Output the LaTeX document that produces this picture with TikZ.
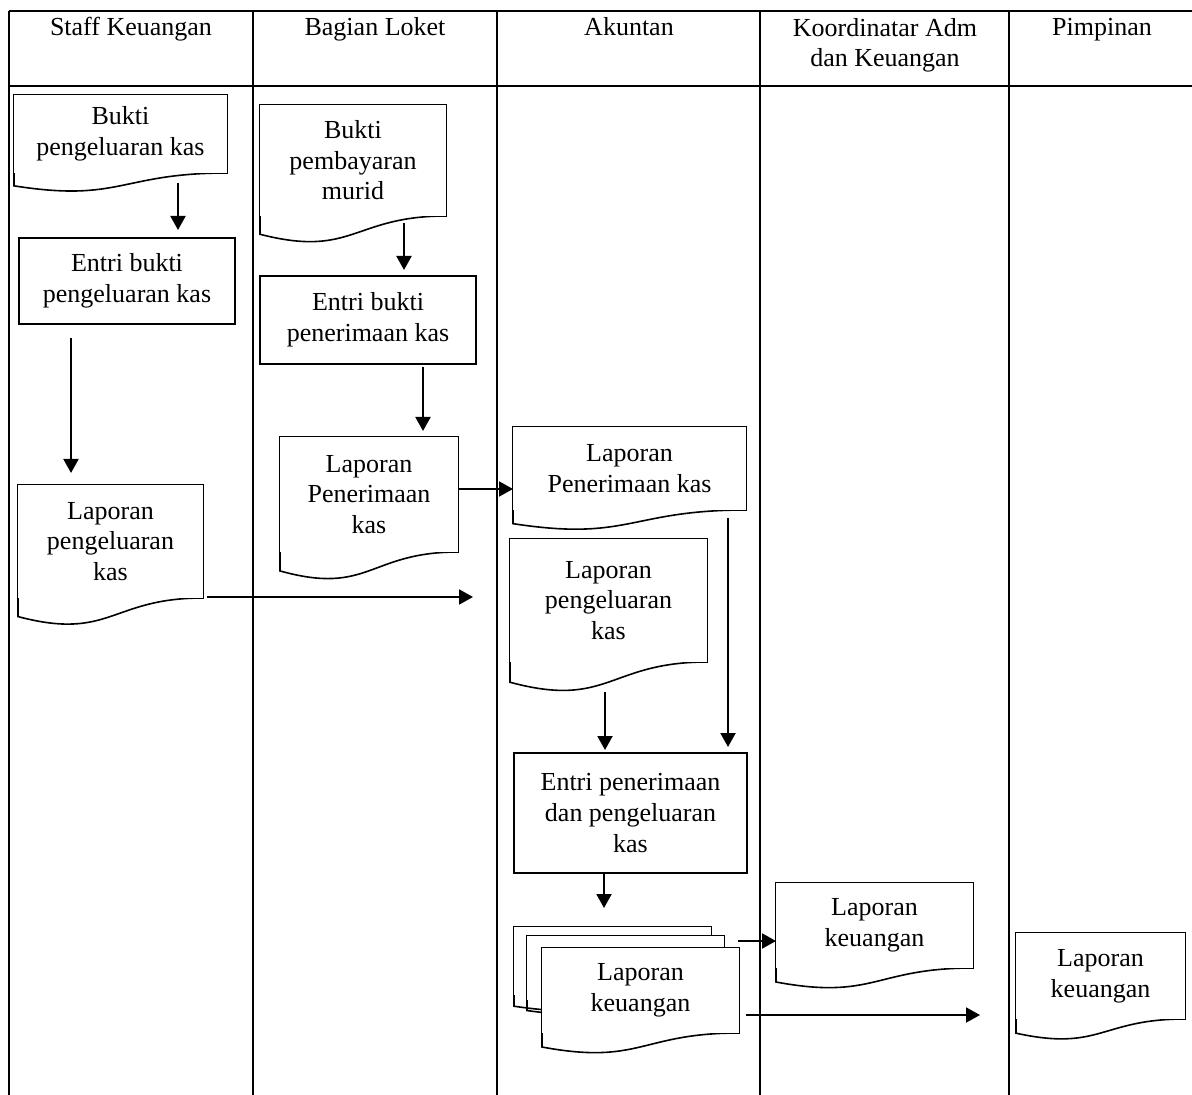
\documentclass[tikz,border=0pt]{standalone}
\usepackage{fontspec}
\setmainfont{Liberation Serif}
\usetikzlibrary{calc}
\usetikzlibrary{positioning}
\usetikzlibrary{arrows.meta}

\begin{document}
\begin{tikzpicture}
[
x=0.5pt, y=-0.5pt,
% 文字の設定
every node/.style={outer sep=0, inner sep=0, align=center, font=\fontsize{13}{15.3}\selectfont},
% 矢印の設定
arrow/.style={-{Triangle[length=7pt, width=7.5pt]}, line width=1pt},
% 表の罫線
lane/.style={line width=0.6pt},
% 見出し
head/.style={anchor=north, execute at begin node=\strut},
% 処理
block/.style={rectangle, draw, line width=0.8pt, anchor=north west},
% 書類
doc/.style={rectangle, fill=white, anchor=north west,
append after command={\pgfextra{\draw[line width=0.8pt]
(\tikzlastnode.north west) -- (\tikzlastnode.north east) -- (\tikzlastnode.south east)
.. controls (\tikzlastnode.south) and ($(\tikzlastnode.north)!1.381!(\tikzlastnode.south)$)
.. ($(\tikzlastnode.north west)!1.1646!(\tikzlastnode.south west)$) -- cycle;}}}
]
\useasboundingbox (0,0) rectangle (1192,1095);

% 表
\draw [lane] (9,11) -- (1192,11);
\draw [lane] (9,86) -- (1192,86);
\foreach \x in {9,253,497,760,1009}
  \draw [lane] (\x,11) -- (\x,1095);
\node [head] (hstaff) at (131,14) {Staff Keuangan};
\node [head] (hloket) at (375,14) {Bagian Loket};
\node [head] (hakun) at (629,14) {Akuntan};
\node [head] (hkoor) at (885,18) {Koordinatar Adm\\dan Keuangan};
\node [head] (hpimp) at (1102,14) {Pimpinan};

% ブロックの配置
\node [doc, minimum width=106.5pt, minimum height=39pt] (bpk) at (14,95) {Bukti\\pengeluaran kas};
\node [block, minimum width=108pt, minimum height=43pt] (ebpk) at (19,238) {Entri bukti\\pengeluaran kas};
\node [doc, minimum width=92.5pt, minimum height=56.5pt] (lpk1) at (18,485) {Laporan\\pengeluaran\\kas};
\node [doc, minimum width=93pt, minimum height=55.5pt] (bpm) at (260,105) {Bukti\\pembayaran\\murid};
\node [block, minimum width=108pt, minimum height=44pt] (ebpn) at (260,276) {Entri bukti\\penerimaan kas};
\node [doc, minimum width=89pt, minimum height=57.5pt] (lpn1) at (280,437) {Laporan\\Penerimaan\\kas};
\node [doc, minimum width=116.5pt, minimum height=41.5pt] (lpn2) at (513,427) {Laporan\\Penerimaan kas};
\node [doc, minimum width=98.5pt, minimum height=61.5pt] (lpk2) at (510,539) {Laporan\\pengeluaran\\kas};
\node [block, minimum width=116.5pt, minimum height=60pt] (epp) at (514,753) {Entri penerimaan\\dan pengeluaran\\kas};
\node [doc, minimum width=98.5pt, minimum height=34pt] (lk1c) at (514,927) {};
\node [doc, minimum width=98.5pt, minimum height=32pt] (lk1b) at ([shift={(13,9)}]lk1c.north west) {};
\node [doc, minimum width=98.5pt, minimum height=42.5pt] (lk1) at ([shift={(15,12)}]lk1b.north west) {Laporan\\keuangan};
\node [doc, minimum width=98.5pt, minimum height=42.5pt] (lk2) at (776,883) {Laporan\\keuangan};
\node [doc, minimum width=84.5pt, minimum height=43pt] (lk3) at (1016,933) {Laporan\\keuangan};

% ブロックの接続
\draw [arrow] ([shift={(57.5,10)}]bpk.south) -- ([shift={(51,-8)}]ebpk.north);
\draw [arrow] ([shift={(-56,14)}]ebpk.south) -- ([shift={(-39.5,-12)}]lpk1.north);
\draw [arrow] ([shift={(4,-1)}]lpk1.south east) -- ([shift={(-37,-3.5)}]lpk2.west);
\draw [arrow] ([shift={(51,7)}]bpm.south) -- ([shift={(36,-6)}]ebpn.north);
\draw [arrow] ([shift={(55,3)}]ebpn.south) -- ([shift={(54,-6)}]lpn1.north);
\draw [arrow] ([shift={(0,-5.5)}]lpn1.east) -- ([shift={(0,20.5)}]lpn2.west);
\draw [arrow] ([shift={(-3.5,30)}]lpk2.south) -- ([shift={(-25.5,-3)}]epp.north);
\draw [arrow] ([shift={(98.5,8)}]lpn2.south) -- ([shift={(97.5,-6)}]epp.north);
\draw [arrow] ([shift={(-26.5,0)}]epp.south) -- ([shift={(-8.5,-19)}]lk1c.north);
\draw [arrow] ([shift={(-1,-7)}]lk1.north east) -- ([shift={(0,15.5)}]lk2.west);
\draw [arrow] ([shift={(7,24.5)}]lk1.east) -- ([shift={(-36,39)}]lk3.west);
\end{tikzpicture}
\end{document}
